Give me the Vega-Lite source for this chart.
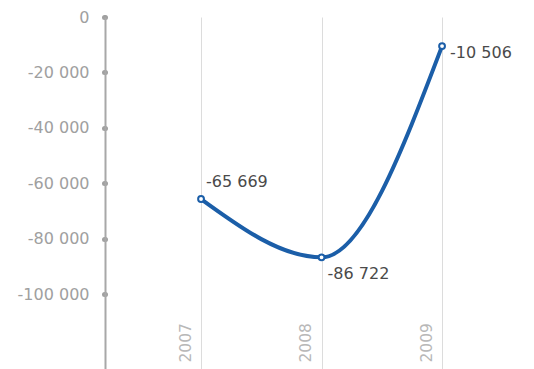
{
  "$schema": "https://vega.github.io/schema/vega-lite/v6.json",
  "autosize": "none",
  "padding": {"left": 105, "top": 17, "right": 0, "bottom": 0},
  "width": 429,
  "height": 352,
  "background": "white",
  "config": {
    "view": {"stroke": null},
    "font": "DejaVu Sans"
  },
  "data": {
    "values": [
      {"year": 2007, "value": -65669},
      {"year": 2008, "value": -86722},
      {"year": 2009, "value": -10506}
    ]
  },
  "transform": [
    {"calculate": "(datum.value < 0 ? '-' : '') + replace(format(abs(datum.value), ',d'), ',', ' ')", "as": "label"}
  ],
  "encoding": {
    "x": {
      "field": "year",
      "type": "quantitative",
      "scale": {"domain": [2006.203, 2009.763], "nice": false, "zero": false},
      "axis": {
        "title": null,
        "values": [2007, 2008, 2009],
        "format": "d",
        "domain": false,
        "ticks": false,
        "grid": true,
        "gridColor": "#dcdcdc",
        "gridWidth": 1,
        "labelAngle": -90,
        "labelAlign": "left",
        "labelBaseline": "middle",
        "labelPadding": -7,
        "labelOffset": -16,
        "labelColor": "#b8b8b8",
        "labelFontSize": 15.5
      }
    },
    "y": {
      "field": "value",
      "type": "quantitative",
      "scale": {"domain": [-127000, 0], "nice": false},
      "axis": {
        "title": null,
        "values": [0, -20000, -40000, -60000, -80000, -100000],
        "labelExpr": "(datum.value < 0 ? '-' : '') + replace(format(abs(datum.value), ',d'), ',', ' ')",
        "grid": false,
        "domainColor": "#a8a8a8",
        "domainWidth": 2,
        "tickColor": "#a0a0a0",
        "tickSize": 1,
        "tickWidth": 5,
        "tickCap": "round",
        "labelPadding": 15,
        "labelColor": "#a0a0a0",
        "labelFontSize": 16
      }
    }
  },
  "layer": [
    {
      "mark": {"type": "line", "interpolate": "monotone", "color": "#1b5ea8", "strokeWidth": 4, "strokeCap": "round"}
    },
    {
      "mark": {"type": "point", "filled": true, "fill": "white", "stroke": "#1b5ea8", "strokeWidth": 2, "size": 34, "opacity": 1}
    },
    {
      "transform": [{"filter": "datum.year == 2007"}],
      "mark": {"type": "text", "align": "left", "baseline": "middle", "dx": 5, "dy": -17, "fontSize": 16, "color": "#4a4a4a"},
      "encoding": {"text": {"field": "label"}}
    },
    {
      "transform": [{"filter": "datum.year == 2008"}],
      "mark": {"type": "text", "align": "left", "baseline": "middle", "dx": 6, "dy": 17, "fontSize": 16, "color": "#4a4a4a"},
      "encoding": {"text": {"field": "label"}}
    },
    {
      "transform": [{"filter": "datum.year == 2009"}],
      "mark": {"type": "text", "align": "left", "baseline": "middle", "dx": 8, "dy": 7, "fontSize": 16, "color": "#4a4a4a"},
      "encoding": {"text": {"field": "label"}}
    }
  ]
}
